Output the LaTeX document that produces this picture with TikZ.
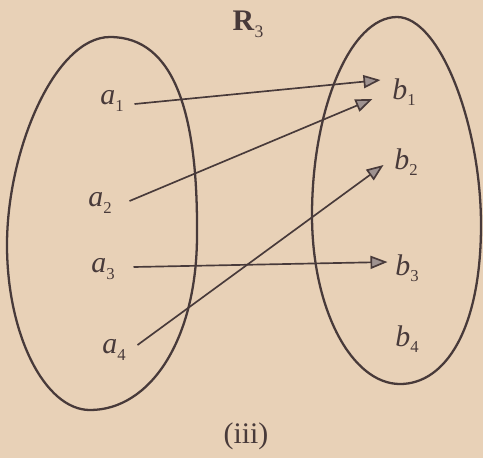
\documentclass[tikz,border=0pt]{standalone}
\usepackage{fontspec}
\setmainfont{Liberation Serif}
\usetikzlibrary{arrows.meta}

\definecolor{paper}{RGB}{232,209,183}
\definecolor{ink}{RGB}{72,58,58}
\definecolor{tipgray}{RGB}{158,146,144}

\tikzset{
    elem/.style={font=\fontsize{17}{20}\selectfont, text=ink, inner sep=2pt},
    setline/.style={draw=ink, line width=1.3pt},
    maparrow/.style={draw=ink, line width=0.95pt,
        -{Triangle[length=0.34cm, width=0.26cm, fill=tipgray]}},
}

\newcommand{\elt}[2]{\textit{#1}\raisebox{-0.45ex}{\fontsize{9.5}{10}\selectfont #2}}

\begin{document}
\begin{tikzpicture}[x=0.02cm, y=-0.02cm]

    \useasboundingbox[fill=paper] (0,0) rectangle (483,458);

    % Sets
    \draw[setline] (110,37)
        .. controls (175,37) and (198,115) .. (197,235)
        .. controls (197,340) and (150,410) .. (90,410)
        .. controls (45,410) and (7,335) .. (7,245)
        .. controls (7,150) and (55,37) .. (110,37) -- cycle;
    \draw[setline] (397,17)
        .. controls (440,17) and (481,125) .. (481,225)
        .. controls (481,330) and (445,384) .. (400,384)
        .. controls (352,384) and (312,310) .. (312,215)
        .. controls (312,110) and (350,17) .. (397,17) -- cycle;

    % Title and caption
    \node[text=ink, font=\fontsize{17}{20}\selectfont] (title) at (248,24) {\textbf{R}\raisebox{-0.5ex}{\fontsize{10}{11}\selectfont 3}};
    \node[text=ink, font=\fontsize{17}{20}\selectfont] (caption) at (246,436) {(iii)};

    % Elements
    \node[elem] (a1) at (112,101) {\elt{a}{1}};
    \node[elem] (a2) at (100,203) {\elt{a}{2}};
    \node[elem] (a3) at (103,269) {\elt{a}{3}};
    \node[elem] (a4) at (114,350) {\elt{a}{4}};

    \node[elem] (b1) at (404,92) {\elt{b}{1}};
    \node[elem] (b2) at (406,162) {\elt{b}{2}};
    \node[elem] (b3) at (407,268) {\elt{b}{3}};
    \node[elem] (b4) at (407,339) {\elt{b}{4}};

    % Relation
    \draw[maparrow] ([shift={(7,3)}]a1.east) -- ([shift={(-8,-12)}]b1.west);
    \draw[maparrow] ([shift={(14,-2)}]a2.east) -- ([shift={(-16,7)}]b1.west);
    \draw[maparrow] ([shift={(15,-2)}]a3.east) -- ([shift={(-4,-6)}]b3.west);
    \draw[maparrow] ([shift={(8,-5)}]a4.east) -- ([shift={(-7,3)}]b2.west);

\end{tikzpicture}
\end{document}
